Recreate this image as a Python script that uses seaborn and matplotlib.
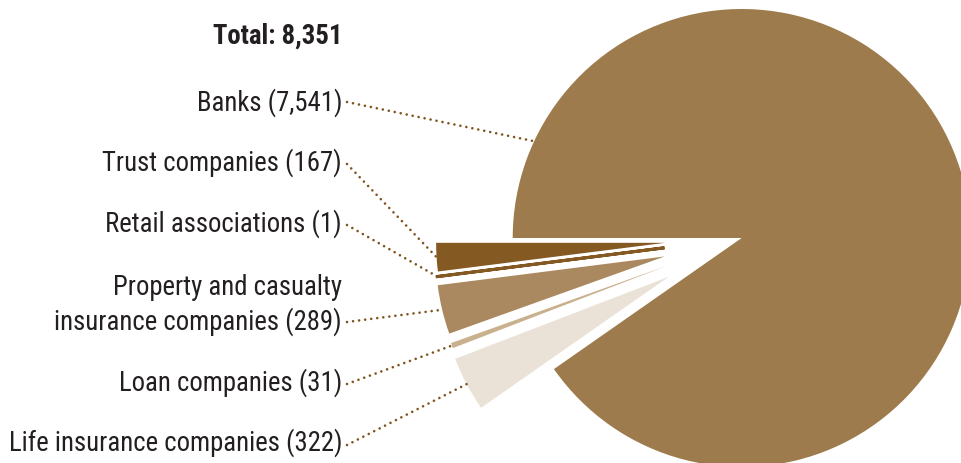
import numpy as np
import matplotlib
matplotlib.use("Agg")
import matplotlib.pyplot as plt
import seaborn as sns

# Federally regulated financial institutions by type
categories = [
    "Trust companies",
    "Retail associations",
    "Property and casualty\ninsurance companies",
    "Loan companies",
    "Life insurance companies",
    "Banks",
]
counts = [167, 1, 289, 31, 322, 7541]
total = 8351
slice_colors = ["#845A22", "#845A22", "#AA8960", "#C9B18F", "#EAE2D6", "#9E7B4C"]

sns.set_theme(style="white")
plt.rcParams["font.family"] = ["Roboto Condensed", "DejaVu Sans"]

W, H = 962, 464
fig = plt.figure(figsize=(W / 100, H / 100), dpi=100)
ax = fig.add_axes([0, 0, 1, 1])

# small categories are pulled out of the pie towards the labels
explode = [0.335, 0.34, 0.345, 0.35, 0.36, 0.0]
wedges, _ = ax.pie(
    counts,
    colors=slice_colors,
    startangle=180,
    counterclock=True,
    explode=explode,
    radius=1.0,
    wedgeprops=dict(linewidth=0),
)
# a single-institution slice would vanish; give it a visible stroke
wedges[1].set_edgecolor(slice_colors[1])
wedges[1].set_linewidth(2.2)

# pixel layout -> data units (pie radius = 229 px, centre at 741.7, 239)
R_PX, CX, CY = 229.0, 741.7, 239.0
def px(x, y):
    return (x - CX) / R_PX, (CY - y) / R_PX

x0, y0 = px(0, H)
x1, y1 = px(W, 0)
ax.set_xlim(x0, x1)
ax.set_ylim(y0, y1)
ax.set_aspect("auto")
ax.axis("off")

text_color = "#231F20"
lead_color = "#7E531C"
fs = 19.3
label_right = px(342, 0)[0]
line_start = px(347, 0)[0]

tx, ty = px(342, 36)
ax.text(tx, ty, f"Total: {total:,}", ha="right", va="center",
        fontsize=fs, fontweight="bold", color=text_color)

# label rows (pixel y of text centre, pixel y of leader start)
rows = {
    "Banks": (103, 103),
    "Trust companies": (163, 165),
    "Retail associations": (224, 226),
    "Property and casualty\ninsurance companies": (305, 323),
    "Loan companies": (383, 385),
    "Life insurance companies": (443, 446),
}

for i, (name, val) in enumerate(zip(categories, counts)):
    ty_px, ly_px = rows[name]
    label = f"{name} ({val:,})"
    ax.text(label_right, px(0, ty_px)[1], label, ha="right", va="center",
            fontsize=fs, color=text_color, linespacing=1.32)
    w = wedges[i]
    cx, cy = w.center
    if name == "Banks":
        ang = np.deg2rad(155)
    else:
        ang = np.deg2rad((w.theta1 + w.theta2) / 2)
    end = (cx + w.r * np.cos(ang), cy + w.r * np.sin(ang))
    start = (line_start, px(0, ly_px)[1])
    ax.plot([start[0], end[0]], [start[1], end[1]], color=lead_color,
            lw=1.9, linestyle=(0, (0.01, 2.3)), dash_capstyle="round",
            solid_capstyle="round", zorder=3)

fig.savefig("out.png", dpi=100)
